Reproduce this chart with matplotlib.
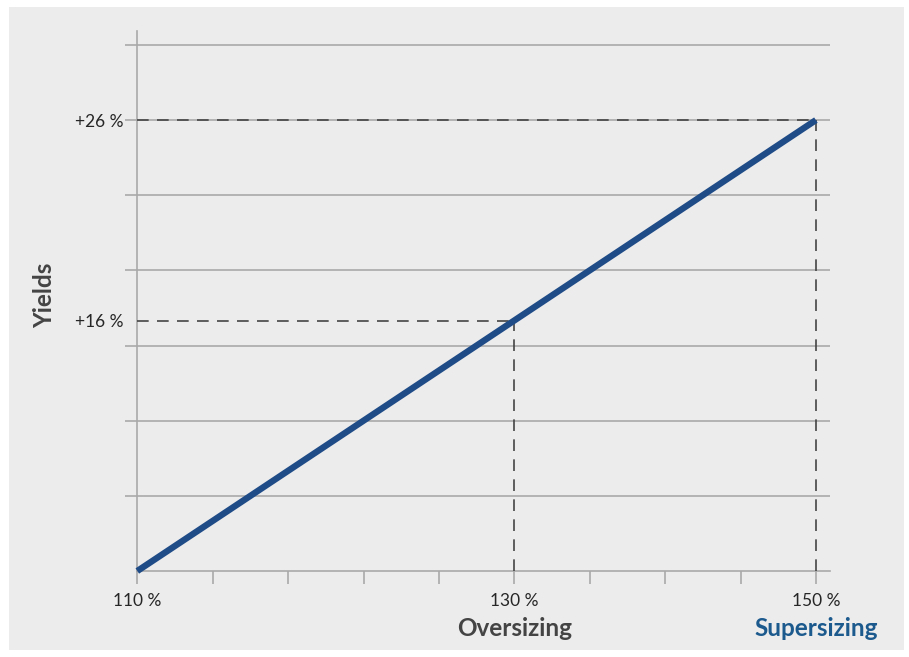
# Schematic line: yield gain vs. inverter oversizing

import matplotlib.pyplot as plt
from matplotlib.patches import Rectangle

plt.rcParams['font.family'] = ['Lato', 'DejaVu Sans']

# positions on the schematic axes (one step = one tick / gridline)
oversize_steps = [0, 5, 9]
yield_steps = [0, 10 / 3, 6]
oversize_labels = ['110 %', '130 %', '150 %']
yield_labels = ['+16 %', '+26 %']
n_xticks = 10
n_grid = 8

grid_col = '#a9a9a9'
text_col = '#262626'
line_col = '#1f4b87'
dash_col = '#444444'

fig = plt.figure(figsize=(9.09, 6.57), dpi=100, facecolor='white')
fig.patches.append(Rectangle((9 / 909, 7 / 657), 895 / 909, 643 / 657,
                             transform=fig.transFigure, facecolor='#ececec',
                             edgecolor='none', zorder=-10))

ax = fig.add_axes([137.3 / 909, 86 / 657, (830 - 137.3) / 909, (571 - 30.7) / 657])
ax.set_facecolor('none')
ax.set_xlim(0, (830 - 137.3) / 75.4)
ax.set_ylim(0, (571 - 30.7) / 75.15)

for s in ['top', 'right']:
    ax.spines[s].set_visible(False)
for s in ['left', 'bottom']:
    ax.spines[s].set_color(grid_col)
    ax.spines[s].set_linewidth(1.2)

# gridlines
ax.set_yticks(range(1, n_grid))
ax.set_yticklabels([''] * (n_grid - 1))
ax.yaxis.grid(True, color=grid_col, linewidth=1.2)
ax.tick_params(axis='y', which='major', length=9, width=1.2, color=grid_col)

ax.yaxis.remove_overlapping_locs = False
ax.set_yticks(yield_steps[1:], minor=True)
ax.set_yticklabels(yield_labels, minor=True)
ax.tick_params(axis='y', which='minor', length=0, pad=10, labelsize=12.5,
               labelcolor=text_col)

xlabels = [''] * n_xticks
for p, lab in zip(oversize_steps, oversize_labels):
    xlabels[p] = lab
ax.set_xticks(range(n_xticks))
ax.set_xticklabels(xlabels)
ax.tick_params(axis='x', length=9, width=1.2, color=grid_col, pad=7,
               labelsize=12.5, labelcolor=text_col)

# dashed guides
for x, y in zip(oversize_steps[1:], yield_steps[1:]):
    ax.plot([0, x], [y, y], color=dash_col, lw=1.2, dashes=(7, 5), zorder=3)
    ax.plot([x, x], [0, y], color=dash_col, lw=1.2, dashes=(7, 5), zorder=3)

ax.plot([oversize_steps[0], oversize_steps[-1]], [yield_steps[0], yield_steps[-1]],
        color=line_col, lw=4.6, solid_capstyle='butt', zorder=4, clip_on=False)

ax.text(oversize_steps[1], -0.77, 'Oversizing', transform=ax.transData,
        ha='center', va='center', fontsize=17.5, fontweight='bold', color='#444444')
ax.text(oversize_steps[2], -0.77, 'Supersizing', transform=ax.transData,
        ha='center', va='center', fontsize=17.5, fontweight='bold', color='#1c5a8e')
ax.text(-1.23, 3.67, 'Yields', rotation=90, ha='center', va='center',
        fontsize=17.5, fontweight='bold', color='#444444')

fig.savefig('out.png', dpi=100, facecolor='white')
